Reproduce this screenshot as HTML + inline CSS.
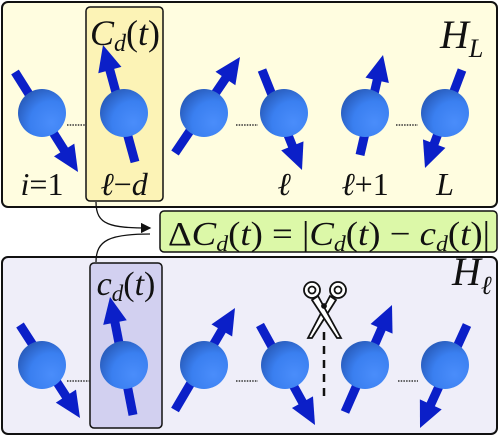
<!DOCTYPE html>
<html><head><meta charset="utf-8"><style>
html,body{margin:0;padding:0;background:#fff}
svg{display:block}
.m{font-family:"Liberation Serif",serif;font-style:italic;fill:#111}
</style></head><body>
<svg id="fig" width="500" height="436" viewBox="0 0 500 436">
<defs>
<radialGradient id="sph" cx="0.7" cy="0.7" r="0.75">
<stop offset="0" stop-color="#4a8dfb"/><stop offset="0.6" stop-color="#3a7ff0"/><stop offset="1" stop-color="#2a5fc0"/>
</radialGradient>
<marker id="ah" markerWidth="8" markerHeight="8" refX="7" refY="4" orient="auto"><path d="M0,0 L8,4 L0,8 z" fill="#111"/></marker>
</defs>
<rect x="2" y="2" width="495" height="205" rx="6" fill="#fffde0" stroke="#111" stroke-width="2"/>
<rect x="86" y="7" width="77" height="194" rx="4" fill="#fcf3b6" stroke="#111" stroke-width="1.5"/>
<rect x="2" y="257" width="495" height="177" rx="6" fill="#efeef9" stroke="#111" stroke-width="2"/>
<rect x="90" y="263" width="72" height="165" rx="4" fill="#d2d0f0" stroke="#111" stroke-width="1.5"/>
<rect x="160" y="211" width="337" height="41" rx="4" fill="#dcf8a8" stroke="#111" stroke-width="1.5"/>
<path d="M96,202 C96,225 110,228 150,228" fill="none" stroke="#111" stroke-width="1.3" marker-end="url(#ah)"/>
<path d="M96,262 C96,240 110,234 150,234" fill="none" stroke="#111" stroke-width="1.3"/>
<text class="m" x="125" y="45" font-size="36" text-anchor="middle">C<tspan font-size="24" dy="6">d</tspan><tspan dy="-6" font-style="normal">(</tspan>t<tspan font-style="normal">)</tspan></text>
<text class="m" x="126" y="295" font-size="34" text-anchor="middle">c<tspan font-size="23" dy="6">d</tspan><tspan dy="-6" font-style="normal">(</tspan>t<tspan font-style="normal">)</tspan></text>
<text class="m" x="440" y="48" font-size="40">H<tspan font-size="26" dy="9">L</tspan></text>
<text class="m" x="452" y="285" font-size="40">H<tspan font-size="26" dy="9">ℓ</tspan></text>
<text class="m" x="168" y="245" font-size="34" textLength="322" lengthAdjust="spacingAndGlyphs"><tspan font-style="normal">Δ</tspan>C<tspan font-size="22" dy="6">d</tspan><tspan dy="-6" font-style="normal">(</tspan>t<tspan font-style="normal">) = |</tspan>C<tspan font-size="22" dy="6">d</tspan><tspan dy="-6" font-style="normal">(</tspan>t<tspan font-style="normal">) − </tspan>c<tspan font-size="22" dy="6">d</tspan><tspan dy="-6" font-style="normal">(</tspan>t<tspan font-style="normal">)|</tspan></text>
<g font-size="32" class="m" text-anchor="middle">
<text x="42" y="195">i<tspan font-style="normal">=1</tspan></text>
<text x="124" y="195">ℓ<tspan font-style="normal">−</tspan>d</text>
<text x="284" y="195">ℓ</text>
<text x="365" y="195">ℓ<tspan font-style="normal">+1</tspan></text>
<text x="445" y="195">L</text>
</g>
<g stroke="#333" stroke-width="1.5" stroke-dasharray="1.5,1.2">
<line x1="67" y1="125" x2="86" y2="125"/><line x1="236" y1="125" x2="258" y2="125"/><line x1="396" y1="125" x2="418" y2="125"/>
<line x1="67" y1="381" x2="90" y2="381"/><line x1="236" y1="381" x2="258" y2="381"/><line x1="398" y1="381" x2="418" y2="381"/>
</g>
<line x1="324" y1="332" x2="324" y2="402" stroke="#111" stroke-width="2.5" stroke-dasharray="8,6"/>
<g fill="#fff" stroke="#111" stroke-width="1.8">
<path d="M308,338 L330,296 L336,300 L312,338 z"/>
<path d="M341,338 L318,296 L312,300 L337,338 z"/>
<circle cx="312" cy="290" r="8"/><circle cx="338" cy="290" r="8"/>
<circle cx="312" cy="290" r="3.5"/><circle cx="338" cy="290" r="3.5"/>
<circle cx="324" cy="306" r="2" fill="#111"/>
</g>
<g id="spins"></g>
</svg>
<script>
const spins=[
[42,113,15,72,78,172],[124,113,135,162,103,45],[204,113,175,153,240,57],[284,113,262,70,302,170],[365,113,360,155,383,55],[445,113,462,70,425,168],
[42,365,20,325,80,418],[124,365,133,415,110,297],[204,365,175,410,235,308],[285,365,260,325,315,425],[365,365,345,412,392,305],[445,365,467,325,420,428]];
const NS='http://www.w3.org/2000/svg';
const g=document.getElementById('spins');
spins.forEach((s,i)=>{
const [cx,cy,tx,ty,hx,hy]=s;
const dx=hx-tx,dy=hy-ty,L=Math.hypot(dx,dy),ux=dx/L,uy=dy/L,px=-uy,py=ux;
const bx=hx-ux*26,by=hy-uy*26;
const grp=document.createElementNS(NS,'g');


const ln=document.createElementNS(NS,'line');
ln.setAttribute('x1',tx);ln.setAttribute('y1',ty);ln.setAttribute('x2',bx+ux*2);ln.setAttribute('y2',by+uy*2);
ln.setAttribute('stroke','#0b1fc8');ln.setAttribute('stroke-width','9');


const hd=document.createElementNS(NS,'polygon');
hd.setAttribute('points',`${hx},${hy} ${bx+px*12},${by+py*12} ${bx-px*12},${by-py*12}`);
hd.setAttribute('fill','#0b1fc8');


const c=document.createElementNS(NS,'circle');
c.setAttribute('cx',cx);c.setAttribute('cy',cy);c.setAttribute('r','24');c.setAttribute('fill','url(#sph)');


grp.appendChild(ln);grp.appendChild(hd);grp.appendChild(c);g.appendChild(grp);
});
</script>
</body></html>
